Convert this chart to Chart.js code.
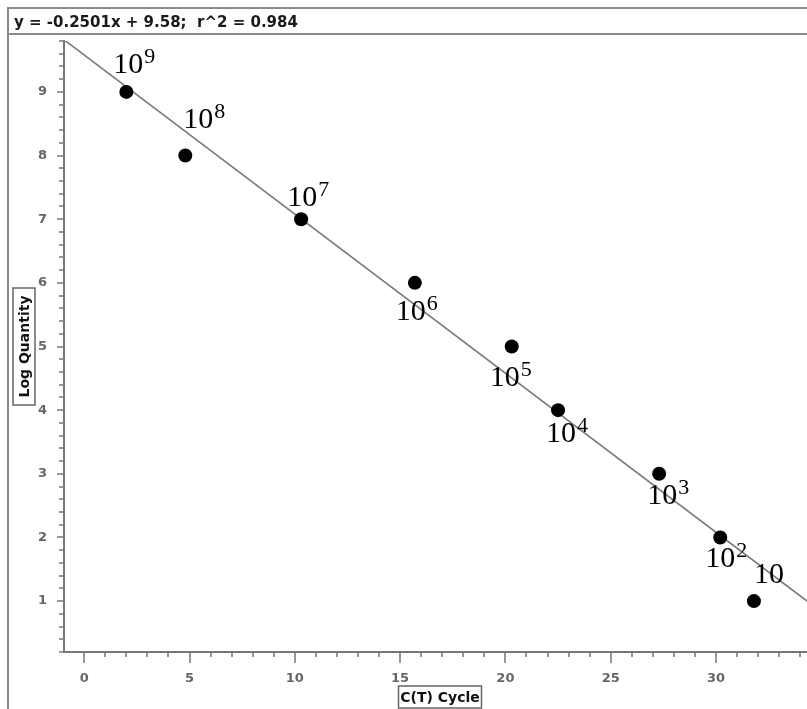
<!DOCTYPE html>
<html lang="en">
<head>
<meta charset="UTF-8">
<title>Standard curve</title>
<style>
  html, body { margin: 0; padding: 0; background: #fff; }
  #wrap { width: 807px; height: 709px; }
</style>
</head>
<body>
<div id="wrap"><canvas id="canvas" width="807" height="709"></canvas></div>

<script src="https://cdn.jsdelivr.net/npm/chart.js"></script>
<script>
// standard curve points
const ctCycle = [2.0, 4.8, 10.3, 15.7, 20.3, 22.5, 27.3, 30.2, 31.8];
const logQuantity = [9, 8, 7, 6, 5, 4, 3, 2, 1];
const copyExponent = ['9', '8', '7', '6', '5', '4', '3', '2', ''];

// fitted line, ends of the drawn segment
const fitX = [-0.96, 34.32];
const fitY = [9.82, 1.0];
const fitText = 'y = -0.2501x + 9.58;  r^2 = 0.984';

const majorXTicks = [0, 5, 10, 15, 20, 25, 30];
const majorYTicks = [1, 2, 3, 4, 5, 6, 7, 8, 9];

// where each "10^n" label sits relative to its point (left edge, baseline)
const labelOffsets = [
  [-13, -19], [-2, -28], [-14, -13], [-19, 37], [-22, 39],
  [-12, 32], [-12, 30], [-15, 30], [0, -18]
];

const GREY = '#777';
const tickFont = { family: '"DejaVu Sans", sans-serif', size: 13, weight: 'bold' };
const boxFont = 'bold 14px "DejaVu Sans", sans-serif';

const frame = {
  id: 'frame',
  beforeDraw(chart) {
    const c = chart.ctx;
    c.save();
    c.fillStyle = '#fff';
    c.fillRect(0, 0, chart.width, chart.height);
    c.strokeStyle = '#8a8a8a';
    c.lineWidth = 2;
    c.beginPath();
    c.moveTo(8, chart.height);
    c.lineTo(8, 8);
    c.lineTo(chart.width, 8);
    c.moveTo(8, 34);
    c.lineTo(chart.width, 34);
    c.stroke();
    c.fillStyle = '#1a1a1a';
    c.font = 'bold 15px "DejaVu Sans", sans-serif';
    c.textBaseline = 'alphabetic';
    c.fillText(fitText, 14, 27);
    c.restore();
  }
};

function boxedText(c, text, cx, cy, w, h, rotate) {
  c.save();
  c.translate(cx, cy);
  if (rotate) c.rotate(-Math.PI / 2);
  c.font = boxFont;
  c.fillStyle = '#fff';
  c.fillRect(-w / 2, -h / 2, w, h);
  c.strokeStyle = '#666';
  c.lineWidth = 1.5;
  c.strokeRect(-w / 2, -h / 2, w, h);
  c.fillStyle = '#111';
  c.textAlign = 'center';
  c.textBaseline = 'middle';
  c.fillText(text, 0, 1);
  c.restore();
}

const axisMarks = {
  id: 'axisMarks',
  afterDraw(chart) {
    const c = chart.ctx;
    const xs = chart.scales.x, ys = chart.scales.y;
    c.save();
    c.strokeStyle = GREY;
    c.lineWidth = 1.5;
    c.beginPath();
    xs.ticks.forEach(t => {
      const px = Math.round(xs.getPixelForValue(t.value));
      const len = majorXTicks.includes(t.value) ? 11 : 5;
      c.moveTo(px, xs.top);
      c.lineTo(px, xs.top + len);
    });
    ys.ticks.forEach(t => {
      const py = Math.round(ys.getPixelForValue(t.value));
      const len = majorYTicks.includes(t.value) ? 7 : 5;
      c.moveTo(ys.right, py);
      c.lineTo(ys.right - len, py);
    });
    c.stroke();
    c.restore();
    const a = chart.chartArea;
    boxedText(c, 'Log Quantity', 24, (a.top + a.bottom) / 2, 117, 22, true);
    boxedText(c, 'C(T) Cycle', 440, 697, 83, 22, false);
  }
};

const powerLabels = {
  id: 'powerLabels',
  afterDatasetsDraw(chart) {
    const c = chart.ctx;
    const meta = chart.getDatasetMeta(0);
    c.save();
    c.fillStyle = '#000';
    c.textBaseline = 'alphabetic';
    meta.data.forEach((pt, i) => {
      const bx = pt.x + labelOffsets[i][0];
      const by = pt.y + labelOffsets[i][1];
      c.font = '30px "Liberation Serif", "Times New Roman", serif';
      c.fillText('10', bx, by);
      if (copyExponent[i]) {
        const w = c.measureText('10').width;
        c.font = '22px "Liberation Serif", "Times New Roman", serif';
        c.fillText(copyExponent[i], bx + w + 1, by - 10);
      }
    });
    c.restore();
  }
};

new Chart(document.getElementById('canvas').getContext('2d'), {
  type: 'scatter',
  data: {
    datasets: [
      {
        label: 'Standards',
        data: ctCycle.map((x, i) => ({ x: x, y: logQuantity[i] })),
        pointRadius: 7,
        pointBackgroundColor: '#000',
        pointBorderColor: '#000',
        pointBorderWidth: 0
      },
      {
        label: 'Fit',
        type: 'line',
        data: fitX.map((x, i) => ({ x: x, y: fitY[i] })),
        borderColor: '#7a7a7a',
        borderWidth: 1.6,
        pointRadius: 0,
        fill: false
      }
    ]
  },
  options: {
    responsive: false,
    animation: false,
    layout: { autoPadding: false, padding: { top: 41, right: 0, bottom: 0, left: 0 } },
    plugins: {
      legend: { display: false },
      tooltip: { enabled: false }
    },
    scales: {
      x: {
        type: 'linear',
        min: fitX[0],
        max: fitX[1],
        afterBuildTicks(scale) {
          const t = [];
          for (let v = 0; v <= 34; v++) t.push({ value: v });
          scale.ticks = t;
        },
        afterFit(scale) {
          scale.height = 57;
          scale.paddingRight = 0;
          scale.paddingLeft = 0;
        },
        ticks: {
          autoSkip: false,
          maxRotation: 0,
          padding: 8,
          color: '#666',
          font: tickFont,
          callback: v => majorXTicks.includes(v) ? String(v) : ''
        },
        grid: { display: true, drawOnChartArea: false, drawTicks: true, tickLength: 11, color: 'transparent' },
        border: { display: true, color: GREY, width: 2 }
      },
      y: {
        type: 'linear',
        min: 0.2,
        max: 9.8,
        afterBuildTicks(scale) {
          const t = [];
          for (let k = 1; k <= 49; k++) t.push({ value: +(k * 0.2).toFixed(1) });
          scale.ticks = t;
        },
        afterFit(scale) {
          scale.width = 64;
          scale.paddingTop = 0;
          scale.paddingBottom = 0;
        },
        ticks: {
          autoSkip: false,
          padding: 9,
          color: '#666',
          font: tickFont,
          callback: v => majorYTicks.includes(v) ? String(v) : ''
        },
        grid: { display: true, drawOnChartArea: false, drawTicks: true, tickLength: 8, color: 'transparent' },
        border: { display: true, color: GREY, width: 2 }
      }
    }
  },
  plugins: [frame, axisMarks, powerLabels]
});
</script>
</body>
</html>
